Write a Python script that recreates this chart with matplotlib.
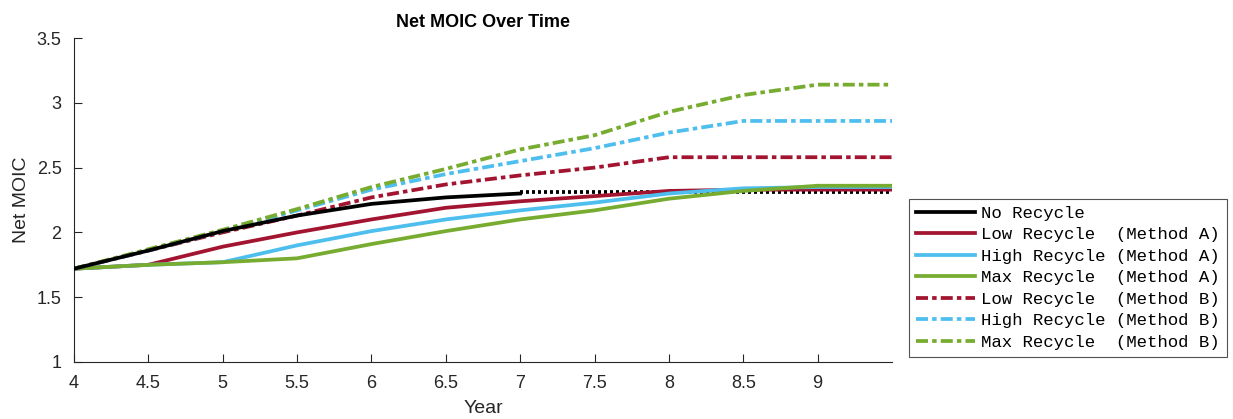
import numpy as np
import matplotlib
matplotlib.use("Agg")
import matplotlib.pyplot as plt

plt.rcParams['font.family'] = ['Liberation Sans', 'DejaVu Sans']

years = [4, 4.5, 5, 5.5, 6, 6.5, 7, 7.5, 8, 8.5, 9, 9.5]

no_rec = [1.72, 1.86, 2.01, 2.13, 2.22, 2.27, 2.30]
no_rec_ext = [2.31, 2.31, 2.31, 2.31, 2.31, 2.31]

low_a = [1.72, 1.75, 1.89, 2.00, 2.10, 2.19, 2.24, 2.28, 2.32, 2.33, 2.33, 2.33]
high_a = [1.72, 1.75, 1.77, 1.90, 2.01, 2.10, 2.17, 2.23, 2.30, 2.34, 2.35, 2.35]
max_a = [1.72, 1.75, 1.77, 1.80, 1.91, 2.01, 2.10, 2.17, 2.26, 2.32, 2.36, 2.36]

low_b = [1.72, 1.86, 2.00, 2.13, 2.27, 2.37, 2.44, 2.50, 2.58, 2.58, 2.58, 2.58]
high_b = [1.72, 1.86, 2.01, 2.17, 2.33, 2.45, 2.55, 2.65, 2.77, 2.86, 2.86, 2.86]
max_b = [1.72, 1.87, 2.02, 2.18, 2.35, 2.49, 2.64, 2.75, 2.93, 3.06, 3.14, 3.14]

red = '#A2142F'
blue = '#4DBEEE'
green = '#77AC30'
dashdot = (0, (3.2, 1.1, 1.2, 1.1))

fig = plt.figure(figsize=(12.33, 4.19), dpi=100)
ax = fig.add_axes([74/1233, 1 - 362/419, (892-74)/1233, (362-38)/419])

lw = 2.7
ax.plot(years[:7], no_rec, color='black', lw=lw, label='No Recycle', zorder=5)
ax.plot(years[6:], no_rec_ext, color='black', lw=lw, ls=(0, (0.8, 0.8)), zorder=1)
ax.plot(years, low_a, color=red, lw=lw, label='Low Recycle  (Method A)')
ax.plot(years, high_a, color=blue, lw=lw, label='High Recycle (Method A)')
ax.plot(years, max_a, color=green, lw=lw, label='Max Recycle  (Method A)')
ax.plot(years, low_b, color=red, lw=lw, ls=dashdot, label='Low Recycle  (Method B)')
ax.plot(years, high_b, color=blue, lw=lw, ls=dashdot, label='High Recycle (Method B)')
ax.plot(years, max_b, color=green, lw=lw, ls=dashdot, label='Max Recycle  (Method B)')

ax.set_xlim(4, 9.5)
ax.set_ylim(1, 3.5)
ax.set_xticks([4, 4.5, 5, 5.5, 6, 6.5, 7, 7.5, 8, 8.5, 9])
ax.set_xticklabels(['4', '4.5', '5', '5.5', '6', '6.5', '7', '7.5', '8', '8.5', '9'])
ax.set_yticks([1, 1.5, 2, 2.5, 3, 3.5])
ax.set_yticklabels(['1', '1.5', '2', '2.5', '3', '3.5'])
ax.tick_params(direction='in', length=6, labelsize=13, colors='#262626', pad=9)
for s in ['top', 'right']:
    ax.spines[s].set_visible(False)
for s in ['left', 'bottom']:
    ax.spines[s].set_color('#262626')
    ax.spines[s].set_linewidth(0.8)

ax.set_title('Net MOIC Over Time', fontsize=13, fontweight='bold', pad=8)
ax.set_xlabel('Year', fontsize=14, color='#262626', labelpad=6)
ax.set_ylabel('Net MOIC', fontsize=14, color='#262626', labelpad=5)

handles, labels = ax.get_legend_handles_labels()
leg = fig.legend(handles, labels, loc='lower left', bbox_to_anchor=(909/1233, 62/419),
                 prop={'family': 'Liberation Mono', 'size': 12.5},
                 handlelength=3.4, handletextpad=0.35, labelspacing=0.37,
                 frameon=True, fancybox=False, borderpad=0.4, borderaxespad=0)
leg.get_frame().set_edgecolor('#262626')
leg.get_frame().set_linewidth(0.8)

fig.savefig('out.png', dpi=100)
